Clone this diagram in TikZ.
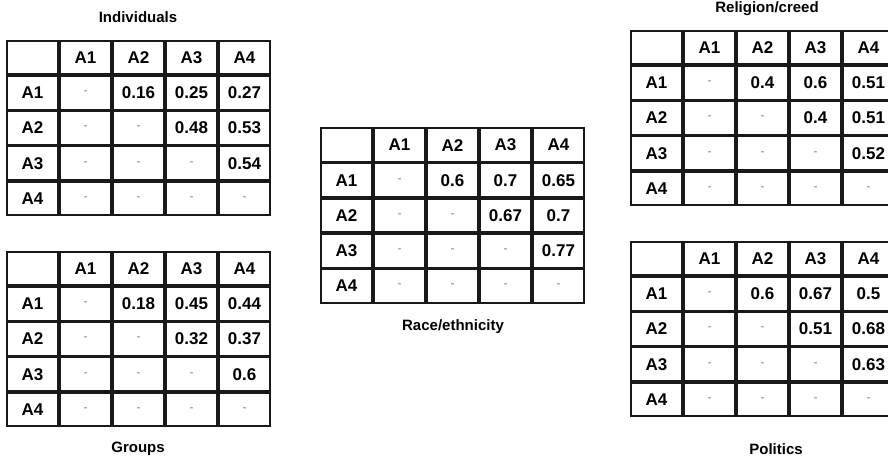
\documentclass[tikz,border=0pt]{standalone}
\usepackage{fontspec}
\setmainfont{Liberation Sans}
\usetikzlibrary{matrix}

% grey dash for the empty half of each table
\newcommand\novalue{{\color{black!50}\fontsize{12}{12}\selectfont\mdseries -}}

\tikzset{
  cell/.style={draw=black!90,line width=1.8pt,minimum width=51.2pt,minimum height=33.4pt,
               anchor=center,inner sep=0pt,outer sep=0pt,font=\fontsize{17}{17}\selectfont\bfseries},
  corrtable/.style={matrix of nodes,nodes in empty cells,nodes={cell},
                    inner sep=0pt,outer sep=0pt,column sep=0pt,row sep=0pt,anchor=north west},
  caption/.style={inner sep=0pt,font=\fontsize{15}{15}\selectfont\bfseries}
}

\begin{document}
\begin{tikzpicture}[x=1pt,y=-1pt]
\path[use as bounding box] (0,0) rectangle (888,462);
\fill[white] (0,0) rectangle (888,462);
\clip (0,0) rectangle (888,462);

% left column
\matrix (ind) [corrtable] at (6,40) {
       & A1       & A2       & A3       & A4 \\
    A1 & \novalue & 0.16     & 0.25     & 0.27 \\
    A2 & \novalue & \novalue & 0.48     & 0.53 \\
    A3 & \novalue & \novalue & \novalue & 0.54 \\
    A4 & \novalue & \novalue & \novalue & \novalue \\
};
\node[caption] (ind-title) at (138,17) {Individuals};

\matrix (grp) [corrtable] at (6,251) {
       & A1       & A2       & A3       & A4 \\
    A1 & \novalue & 0.18     & 0.45     & 0.44 \\
    A2 & \novalue & \novalue & 0.32     & 0.37 \\
    A3 & \novalue & \novalue & \novalue & 0.6 \\
    A4 & \novalue & \novalue & \novalue & \novalue \\
};
\node[caption] (grp-title) at (138,449) {Groups};

% middle
\matrix (race) [corrtable] at (320,127.5) {
       & A1       & A2       & A3       & A4 \\
    A1 & \novalue & 0.6      & 0.7      & 0.65 \\
    A2 & \novalue & \novalue & 0.67     & 0.7 \\
    A3 & \novalue & \novalue & \novalue & 0.77 \\
    A4 & \novalue & \novalue & \novalue & \novalue \\
};
\node[caption] (race-title) at (453,327) {Race/ethnicity};

% right column
\matrix (rel) [corrtable] at (630,30) {
       & A1       & A2       & A3       & A4 \\
    A1 & \novalue & 0.4      & 0.6      & 0.51 \\
    A2 & \novalue & \novalue & 0.4      & 0.51 \\
    A3 & \novalue & \novalue & \novalue & 0.52 \\
    A4 & \novalue & \novalue & \novalue & \novalue \\
};
\node[caption] (rel-title) at (767,9) {Religion/creed};

\matrix (pol) [corrtable] at (630,241) {
       & A1       & A2       & A3       & A4 \\
    A1 & \novalue & 0.6      & 0.67     & 0.5 \\
    A2 & \novalue & \novalue & 0.51     & 0.68 \\
    A3 & \novalue & \novalue & \novalue & 0.63 \\
    A4 & \novalue & \novalue & \novalue & \novalue \\
};
\node[caption] (pol-title) at (776,449) {Politics};
\end{tikzpicture}
\end{document}
